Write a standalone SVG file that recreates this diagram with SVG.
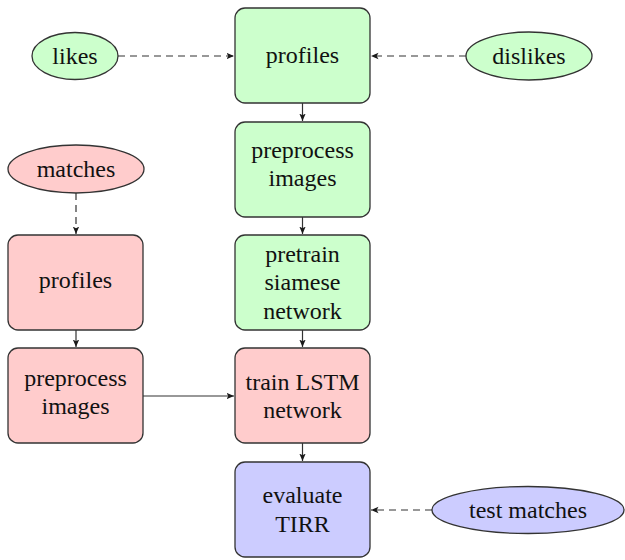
<svg xmlns="http://www.w3.org/2000/svg" width="625" height="560" viewBox="0 0 625 560">
<defs>
<marker id="ah" markerUnits="userSpaceOnUse" markerWidth="10" markerHeight="8" refX="7.5" refY="3.5" orient="auto">
<path d="M0,0.3 L7.5,3.5 L0,6.7 L1.8,3.5 z" fill="#1a1a1a"/>
</marker>
</defs>
<style>
.box{stroke:#333;stroke-width:1.3}
.g{fill:#ccffcc}.r{fill:#ffcccc}.b{fill:#ccccff}
text{font-size:24px;fill:#111;text-anchor:middle}
.c{stroke:#333;stroke-width:1.2;fill:none;marker-end:url(#ah)}
.d{stroke-dasharray:7 5}
</style>
<g font-family="'Liberation Serif', 'DejaVu Serif', serif">
<g id="n-profiles"><rect class="box g" x="235" y="8" width="135" height="95" rx="10"/><text x="302.5" y="63">profiles</text></g>
<g id="n-pre"><rect class="box g" x="235" y="122" width="135" height="95" rx="10"/><text x="302.5" y="158">preprocess</text><text x="302.5" y="186">images</text></g>
<g id="n-siamese"><rect class="box g" x="235" y="235" width="135" height="95" rx="10"/><text x="302.5" y="262">pretrain</text><text x="302.5" y="290">siamese</text><text x="302.5" y="319">network</text></g>
<g id="n-lstm"><rect class="box r" x="235" y="348" width="135" height="95" rx="10"/><text x="302.5" y="390">train LSTM</text><text x="302.5" y="418">network</text></g>
<g id="n-eval"><rect class="box b" x="235" y="462" width="135" height="95" rx="10"/><text x="302.5" y="503">evaluate</text><text x="302.5" y="532">TIRR</text></g>
<g id="n-mprofiles"><rect class="box r" x="8" y="235" width="135" height="95" rx="10"/><text x="75.5" y="288">profiles</text></g>
<g id="n-mpre"><rect class="box r" x="8" y="348" width="135" height="95" rx="10"/><text x="75.5" y="386">preprocess</text><text x="75.5" y="414">images</text></g>
<g id="n-likes"><ellipse class="box g" cx="75" cy="56" rx="43" ry="23.5"/><text x="75" y="64">likes</text></g>
<g id="n-dislikes"><ellipse class="box g" cx="529" cy="56" rx="63" ry="24"/><text x="529" y="64">dislikes</text></g>
<g id="n-matches"><ellipse class="box r" cx="76" cy="169" rx="68" ry="24"/><text x="76" y="177">matches</text></g>
<g id="n-test"><ellipse class="box b" cx="528" cy="510" rx="96" ry="23.5"/><text x="528" y="518">test matches</text></g>
</g>
<g id="connectors">
<line class="c d" x1="118" y1="56" x2="234" y2="56"/>
<line class="c d" x1="466" y1="56" x2="371" y2="56"/>
<line class="c d" x1="76" y1="193" x2="76" y2="234"/>
<line class="c d" x1="432" y1="510" x2="371" y2="510"/>
<line class="c" x1="302.5" y1="103" x2="302.5" y2="121"/>
<line class="c" x1="302.5" y1="217" x2="302.5" y2="234"/>
<line class="c" x1="302.5" y1="330" x2="302.5" y2="347"/>
<line class="c" x1="302.5" y1="443" x2="302.5" y2="461"/>
<line class="c" x1="76" y1="330" x2="76" y2="347"/>
<line class="c" x1="143" y1="396" x2="234" y2="396"/>
</g>
</svg>
